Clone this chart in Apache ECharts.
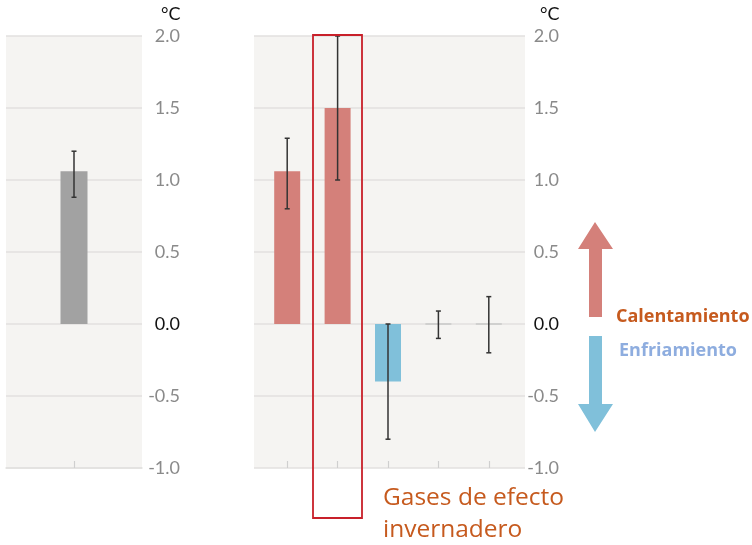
<!DOCTYPE html>
<html><head><meta charset="utf-8">
<script src="https://cdn.jsdelivr.net/npm/echarts@6/dist/echarts.min.js"></script>
<style>html,body{margin:0;padding:0;background:#fff}#c{width:752px;height:545px}</style>
</head><body><div id="c"></div>
<script>
// ---- data ----
const leftCats = ['Total'];
const leftValues = [1.06];
const leftLow = [0.88];
const leftHigh = [1.20];

const rightCats = ['A', 'B', 'C', 'D', 'E'];
const rightValues = [1.06, 1.5, -0.4, 0, 0];
const rightLow = [0.80, 1.0, -0.80, -0.10, -0.20];
const rightHigh = [1.29, 2.0, 0.0, 0.09, 0.19];

const yMin = -1.0, yMax = 2.0, yInterval = 0.5;
const unitLabel = '°C';
const boxLabel = ['Gases de efecto', 'invernadero'];
const warmLabel = 'Calentamiento';
const coolLabel = 'Enfriamiento';

// ---- style ----
const RED = '#d4807a', BLUE = '#80c0da', GREY = '#a2a2a2';
const BG = '#f5f4f2', GRIDLINE = '#e2e1df';

const chart = echarts.init(document.getElementById('c'));

function yAxisCfg(gridIndex, margin, show) {
  return {
    type: 'value', gridIndex, position: 'right', min: yMin, max: yMax, interval: yInterval,
    show: true,
    axisLine: {show: false}, axisTick: {show: false},
    splitLine: {show: show, lineStyle: {color: GRIDLINE, width: 1.5}},
    axisLabel: {
      show: show, align: 'right', margin: margin,
      fontFamily: 'Lato', fontSize: 18,
      formatter: v => v.toFixed(1),
      color: v => (Math.abs(v) < 1e-9 ? '#111' : '#8a8a8a')
    }
  };
}

function errRender(params, api) {
  const x = api.value(0), lo = api.value(1), hi = api.value(2), v = api.value(3);
  const pLo = api.coord([x, lo]), pHi = api.coord([x, hi]);
  const cap = 2.5;
  const st = {stroke: '#333', lineWidth: 1.5};
  const ch = [];
  if (v === 0) {
    const p0 = api.coord([x, 0]);
    ch.push({type: 'line', shape: {x1: p0[0] - 13, y1: p0[1], x2: p0[0] + 13, y2: p0[1]}, style: {stroke: '#c8c8c8', lineWidth: 1.5}});
  }
  ch.push({type: 'line', shape: {x1: pLo[0], y1: pLo[1], x2: pHi[0], y2: pHi[1]}, style: st});
  ch.push({type: 'line', shape: {x1: pLo[0] - cap, y1: pLo[1], x2: pLo[0] + cap, y2: pLo[1]}, style: st});
  ch.push({type: 'line', shape: {x1: pHi[0] - cap, y1: pHi[1], x2: pHi[0] + cap, y2: pHi[1]}, style: st});
  return {type: 'group', children: ch};
}

const xTick = {show: true, alignWithLabel: true, inside: true, length: 7, lineStyle: {color: '#cfcfcf', width: 1.2}};
const xLine = {show: true, onZero: false, lineStyle: {color: GRIDLINE, width: 1.5}};

chart.setOption({
  animation: false,
  grid: [
    {left: 6, right: 610, top: 36, bottom: 77, show: true, backgroundColor: BG, borderWidth: 0},
    {left: 254, right: 227, top: 36, bottom: 77, show: true, backgroundColor: BG, borderWidth: 0},
    {left: 262, right: 238, top: 36, bottom: 77}
  ],
  xAxis: [
    {type: 'category', gridIndex: 0, data: leftCats, axisLine: xLine, axisTick: xTick, axisLabel: {show: false}},
    {type: 'category', gridIndex: 1, data: [''], axisLine: {show: false}, axisTick: {show: false}, axisLabel: {show: false}},
    {type: 'category', gridIndex: 2, data: rightCats, axisLine: {show: true, onZero: false, lineStyle: {color: 'rgba(0,0,0,0)'}}, axisTick: xTick, axisLabel: {show: false}}
  ],
  yAxis: [
    yAxisCfg(0, 38, true),
    yAxisCfg(1, 34, true),
    Object.assign(yAxisCfg(2, 0, false), {show: false})
  ],
  series: [
    {type: 'bar', xAxisIndex: 0, yAxisIndex: 0, data: leftValues, barWidth: 27, itemStyle: {color: GREY}},
    {type: 'custom', xAxisIndex: 0, yAxisIndex: 0, renderItem: errRender,
      data: leftValues.map((v, i) => [i, leftLow[i], leftHigh[i], v]), z: 5},
    {type: 'bar', xAxisIndex: 2, yAxisIndex: 2, barWidth: 26,
      data: rightValues.map(v => ({value: v, itemStyle: {color: v < 0 ? BLUE : RED}}))},
    {type: 'custom', xAxisIndex: 2, yAxisIndex: 2, renderItem: errRender,
      data: rightValues.map((v, i) => [i, rightLow[i], rightHigh[i], v]), z: 5}
  ],
  graphic: [
    {type: 'text', left: 161, top: 5, style: {text: unitLabel, fontFamily: 'Lato', fontSize: 18, fill: '#111'}},
    {type: 'text', left: 540, top: 5, style: {text: unitLabel, fontFamily: 'Lato', fontSize: 18, fill: '#111'}},
    {type: 'rect', shape: {x: 313, y: 35, width: 49, height: 483}, style: {fill: 'none', stroke: '#c8202a', lineWidth: 1.8}, z: 10},
    {type: 'text', left: 383, top: 482, style: {text: boxLabel.join('\n'), fontFamily: 'Open Sans', fontSize: 24.5, lineHeight: 32, fill: '#c65a1e'}},
    {type: 'polygon', shape: {points: [[595, 222], [613, 249], [602, 249], [602, 317], [589, 317], [589, 249], [578, 249]]}, style: {fill: RED}},
    {type: 'polygon', shape: {points: [[589, 336], [602, 336], [602, 404], [613, 404], [595, 432], [578, 404], [589, 404]]}, style: {fill: BLUE}},
    {type: 'text', left: 616, top: 308, style: {text: warmLabel, fontFamily: 'Open Sans', fontWeight: 'bold', fontSize: 18, fill: '#c65a1e'}},
    {type: 'text', left: 619, top: 342, style: {text: coolLabel, fontFamily: 'Open Sans', fontWeight: 'bold', fontSize: 18, fill: '#8eaddf'}}
  ]
});
</script></body></html>
